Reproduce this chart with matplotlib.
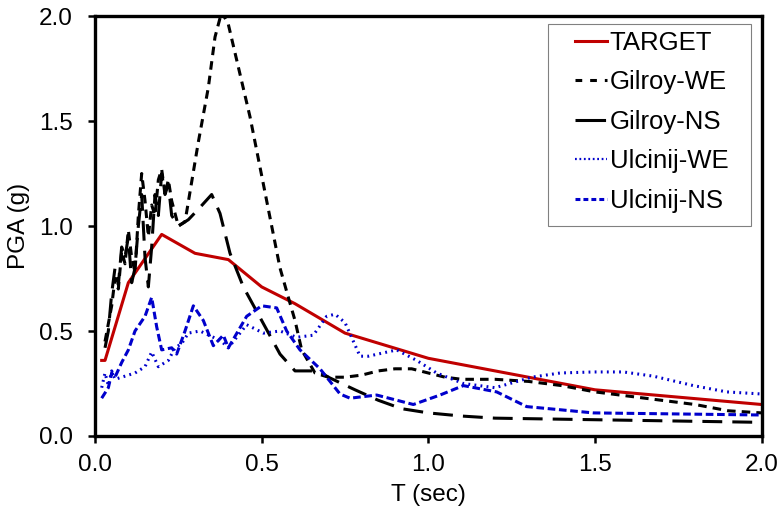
import numpy as np
import matplotlib
matplotlib.use('Agg')
import matplotlib.pyplot as plt
from matplotlib.patches import Rectangle
from matplotlib.lines import Line2D

plt.rcParams['font.family'] = ['Liberation Sans', 'DejaVu Sans']

# Spectra (T in sec, PGA in g)
target_t = [0.02, 0.03, 0.10, 0.20, 0.30, 0.40, 0.50, 0.60, 0.75, 1.00, 1.20, 1.50, 2.00]
target_a = [0.36, 0.36, 0.73, 0.96, 0.87, 0.84, 0.71, 0.63, 0.49, 0.37, 0.31, 0.22, 0.15]

gilroy_we_t = [0.03, 0.05, 0.06, 0.07, 0.08, 0.09, 0.10, 0.11, 0.12, 0.13, 0.14, 0.15,
               0.16, 0.17, 0.18, 0.19, 0.20, 0.21, 0.22, 0.23, 0.25, 0.27, 0.31, 0.34,
               0.36, 0.38, 0.40, 0.465, 0.525, 0.555, 0.58, 0.60, 0.62, 0.66, 0.70, 0.75,
               0.80, 0.85, 0.90, 0.95, 1.00, 1.05, 1.10, 1.20, 1.30, 1.40, 1.50, 1.60,
               1.70, 1.80, 1.90, 2.00]
gilroy_we_a = [0.45, 0.62, 0.75, 0.70, 0.88, 0.82, 0.98, 0.85, 0.78, 1.05, 1.25, 1.12,
               0.95, 1.10, 1.05, 1.22, 1.27, 1.15, 1.22, 1.12, 1.00, 1.02, 1.40, 1.66,
               1.90, 2.02, 1.96, 1.52, 1.04, 0.80, 0.66, 0.55, 0.41, 0.30, 0.28, 0.28,
               0.29, 0.31, 0.32, 0.32, 0.30, 0.28, 0.27, 0.27, 0.26, 0.24, 0.21, 0.19,
               0.17, 0.15, 0.12, 0.11]

gilroy_ns_t = [0.03, 0.04, 0.05, 0.06, 0.07, 0.08, 0.09, 0.10, 0.11, 0.12, 0.13, 0.14,
               0.15, 0.16, 0.17, 0.18, 0.19, 0.20, 0.21, 0.22, 0.23, 0.25, 0.28, 0.31,
               0.35, 0.375, 0.405, 0.445, 0.50, 0.555, 0.60, 0.63, 0.67, 0.70, 0.78,
               0.85, 0.92, 1.00, 1.10, 1.20, 1.40, 1.60, 1.80, 2.00]
gilroy_ns_a = [0.42, 0.50, 0.68, 0.80, 0.72, 0.90, 0.85, 0.95, 0.73, 0.80, 1.00, 1.15,
               0.85, 0.71, 0.90, 1.15, 1.05, 1.25, 1.15, 1.20, 1.05, 1.00, 1.03, 1.08,
               1.15, 1.06, 0.87, 0.71, 0.55, 0.39, 0.31, 0.31, 0.31, 0.28, 0.22,
               0.17, 0.13, 0.11, 0.095, 0.085, 0.08, 0.075, 0.07, 0.065]

ulcinij_we_t = [0.02, 0.03, 0.04, 0.05, 0.06, 0.08, 0.10, 0.12, 0.15, 0.17, 0.19, 0.22,
                0.24, 0.26, 0.28, 0.315, 0.355, 0.38, 0.40, 0.42, 0.455, 0.505, 0.555,
                0.605, 0.655, 0.695, 0.72, 0.75, 0.795, 0.82, 0.905, 0.965, 1.025, 1.105,
                1.20, 1.245, 1.31, 1.395, 1.495, 1.585, 1.675, 1.795, 1.895, 2.00]
ulcinij_we_a = [0.23, 0.30, 0.24, 0.31, 0.27, 0.28, 0.29, 0.30, 0.33, 0.40, 0.33, 0.36,
                0.42, 0.44, 0.49, 0.50, 0.47, 0.45, 0.42, 0.46, 0.53, 0.49, 0.50,
                0.47, 0.48, 0.57, 0.58, 0.54, 0.38, 0.38, 0.41, 0.36, 0.30, 0.25,
                0.23, 0.25, 0.28, 0.30, 0.305, 0.305, 0.285, 0.24, 0.21, 0.20]

ulcinij_ns_t = [0.02, 0.04, 0.05, 0.06, 0.08, 0.10, 0.12, 0.15, 0.17, 0.185, 0.20, 0.23,
                0.245, 0.27, 0.295, 0.325, 0.355, 0.385, 0.40, 0.455, 0.50, 0.545, 0.575,
                0.615, 0.675, 0.735, 0.765, 0.845, 0.955, 1.035, 1.105, 1.205, 1.295,
                1.495, 2.00]
ulcinij_ns_a = [0.18, 0.23, 0.30, 0.28, 0.35, 0.41, 0.50, 0.57, 0.66, 0.52, 0.41, 0.42,
                0.39, 0.50, 0.62, 0.55, 0.43, 0.48, 0.42, 0.57, 0.62, 0.61, 0.50,
                0.41, 0.32, 0.20, 0.18, 0.195, 0.15, 0.195, 0.24, 0.21, 0.14,
                0.11, 0.10]

labels = ['TARGET', 'Gilroy-WE', 'Gilroy-NS', 'Ulcinij-WE', 'Ulcinij-NS']


def main():
    fig = plt.figure(figsize=(7.82, 5.15), dpi=100)
    ax = fig.add_axes([0.1215, 0.1534, 0.8525, 0.8155])

    lw = 2.2
    red, blue = '#C00000', '#0000CC'
    ax.plot(target_t, target_a, color=red, lw=lw)
    ax.plot(gilroy_we_t, gilroy_we_a, color='black', lw=lw, dashes=(2.8, 2.0))
    ax.plot(gilroy_ns_t, gilroy_ns_a, color='black', lw=lw, dashes=(6.5, 3.3))
    ax.plot(ulcinij_we_t, ulcinij_we_a, color=blue, lw=lw, dashes=(0.6, 1.4))
    ax.plot(ulcinij_ns_t, ulcinij_ns_a, color=blue, lw=lw, dashes=(2.5, 1.2))

    ax.set_xlim(0, 2.0)
    ax.set_ylim(0, 2.0)
    ax.set_xticks(np.arange(0, 2.01, 0.5))
    ax.set_yticks(np.arange(0, 2.01, 0.5))
    ax.xaxis.set_major_formatter(matplotlib.ticker.FormatStrFormatter('%.1f'))
    ax.yaxis.set_major_formatter(matplotlib.ticker.FormatStrFormatter('%.1f'))
    ax.tick_params(direction='out', length=5, width=1.8, labelsize=17.5)
    ax.tick_params(axis='x', pad=8)
    ax.tick_params(axis='y', pad=11)
    for s in ax.spines.values():
        s.set_linewidth(2.4)

    ax.set_xlabel('T (sec)', fontsize=17.5, labelpad=6)
    ax.set_ylabel('PGA (g)', fontsize=17.5, labelpad=6)

    # legend keys look a bit different from the plotted lines in the original
    handles = [Line2D([], [], color=red, lw=lw),
               Line2D([], [], color='black', lw=lw, dashes=(2.2, 2.6)),
               Line2D([], [], color='black', lw=lw, dashes=(10, 5)),
               Line2D([], [], color=blue, lw=1.6, dashes=(0.8, 1.2)),
               Line2D([], [], color=blue, lw=lw, dashes=(1.6, 1.0))]
    ax.legend(handles, labels, loc='upper left', fontsize=18.5, handlelength=1.25,
              handletextpad=0.1, frameon=False, borderpad=0,
              borderaxespad=0, labelspacing=0.6,
              bbox_to_anchor=(575 / 782, 1 - 31 / 515),
              bbox_transform=fig.transFigure)
    fig.patches.append(Rectangle((548 / 782, 1 - 226 / 515), 203 / 782, 202 / 515,
                                 transform=fig.transFigure, fill=False,
                                 edgecolor='#808080', lw=0.8, zorder=5))

    fig.savefig('out.png', dpi=100)


if __name__ == '__main__':
    main()
